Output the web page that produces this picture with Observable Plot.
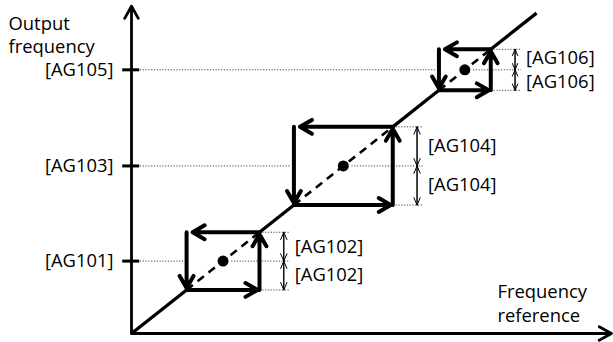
<!DOCTYPE html>
<html><head><meta charset="utf-8">
<script src="https://cdn.jsdelivr.net/npm/d3@7"></script>
<script src="https://cdn.jsdelivr.net/npm/@observablehq/plot@0.6"></script>
<style>html,body{margin:0;padding:0;background:#fff} svg{display:block}</style>
</head><body><div id="chart"></div>
<script>
// ---- data ----
const boxCenters = [22.6, 52.3, 82.3];          // jump frequencies AG101, AG103, AG105
const boxHalfWidths = [9, 12.2, 6.4];           // jump widths AG102, AG104, AG106
const centerLabels = ["[AG101]", "[AG103]", "[AG105]"];
const widthLabels = ["[AG102]", "[AG104]", "[AG106]"];
const lineEnd = 100;
const xMax = 119, yMax = 103;
const yAxisTitle = "Output\nfrequency";
const xAxisTitle = "Frequency\nreference";

// ---- derived tables ----
const dimGap = 6;
const boxes = boxCenters.map((c, i) => ({
  c, h: boxHalfWidths[i], lo: c - boxHalfWidths[i], hi: c + boxHalfWidths[i],
  label: centerLabels[i], wlabel: widthLabels[i], dim: c + boxHalfWidths[i] + dimGap
}));
const breaks = [0, ...boxes.flatMap(b => [b.lo, b.hi]), lineEnd];
const solid = [];
for (let i = 0; i < breaks.length; i += 2) solid.push({a: breaks[i], b: breaks[i + 1]});

const dotted = boxes.flatMap(b => [
  {x1: 0, x2: b.lo - 0.7, y: b.c},
  {x1: b.c + 2, x2: b.dim + 1.5, y: b.c},
  {x1: b.hi, x2: b.dim + 1.5, y: b.hi},
  {x1: b.hi, x2: b.dim + 1.5, y: b.lo}
]);
const leftArrows = boxes.map(b => ({x1: b.hi, y1: b.hi, x2: b.lo, y2: b.hi}));
const otherArrows = boxes.flatMap(b => [
  {x1: b.lo, y1: b.hi, x2: b.lo, y2: b.lo},
  {x1: b.lo, y1: b.lo, x2: b.hi, y2: b.lo},
  {x1: b.hi, y1: b.lo, x2: b.hi, y2: b.hi}
]);
const dimArrows = boxes.flatMap(b => [
  {x: b.dim, y1: b.c, y2: b.hi}, {x: b.dim, y1: b.hi, y2: b.c},
  {x: b.dim, y1: b.c, y2: b.lo}, {x: b.dim, y1: b.lo, y2: b.c}
]);
const widthText = boxes.flatMap(b => {
  const off = Math.max(b.h / 2, 3.7);
  return [{x: b.dim, y: b.c + off, t: b.wlabel}, {x: b.dim, y: b.c - off, t: b.wlabel}];
});
const axes = [
  {x1: 0, y1: 0, x2: 0, y2: yMax - 0.8},
  {x1: 0, y1: 0, x2: xMax - 0.5, y2: 0}
];

const FS = 18.4;
const chart = Plot.plot({
  width: 613, height: 342,
  marginLeft: 131, marginRight: 0, marginTop: 3, marginBottom: 9,
  x: {domain: [0, xMax], axis: null},
  y: {domain: [0, yMax], axis: null},
  style: {fontFamily: "'Open Sans', sans-serif", fontSize: FS + "px", background: "white", color: "black", overflow: "visible"},
  marks: [
    Plot.link(dotted, {x1: "x1", x2: "x2", y1: "y", y2: "y", stroke: "#444", strokeWidth: 1, strokeDasharray: "1.2,1.6"}),
    Plot.link(solid, {x1: "a", y1: "a", x2: "b", y2: "b", strokeWidth: 3.3}),
    Plot.link(boxes, {x1: "lo", y1: "lo", x2: "hi", y2: "hi", strokeWidth: 2.6, strokeDasharray: "8,6"}),
    Plot.arrow(leftArrows, {x1: "x1", y1: "y1", x2: "x2", y2: "y2", strokeWidth: 4, headLength: 5.2, headAngle: 60, insetEnd: 6}),
    Plot.arrow(otherArrows, {x1: "x1", y1: "y1", x2: "x2", y2: "y2", strokeWidth: 4, headLength: 5.2, headAngle: 60, insetEnd: 2}),
    Plot.arrow(dimArrows, {x1: "x", x2: "x", y1: "y1", y2: "y2", strokeWidth: 1, headLength: 12, headAngle: 46}),
    Plot.dot(boxes, {x: "c", y: "c", r: 5.5, fill: "black"}),
    Plot.link(boxes, {x1: () => -2.3, x2: () => 1.9, y1: "c", y2: "c", strokeWidth: 3}),
    Plot.arrow(axes, {x1: "x1", y1: "y1", x2: "x2", y2: "y2", strokeWidth: 2.8, headLength: 7.5, headAngle: 58}),
    Plot.text(boxes, {x: () => 0, y: "c", text: "label", textAnchor: "end", dx: -18, fontSize: FS}),
    Plot.text(widthText, {x: "x", y: "y", text: "t", textAnchor: "start", dx: 11, fontSize: FS}),
    Plot.text([yAxisTitle], {frameAnchor: "top-left", text: d => d, textAnchor: "start", lineAnchor: "top", dx: -123, dy: 10, lineHeight: 1.26, fontSize: FS}),
    Plot.text([xAxisTitle], {frameAnchor: "bottom-right", text: d => d, textAnchor: "start", lineAnchor: "top", dx: -116, dy: -52, lineHeight: 1.3, fontSize: FS})
  ]
});
document.getElementById("chart").append(chart);
</script>
</body></html>
